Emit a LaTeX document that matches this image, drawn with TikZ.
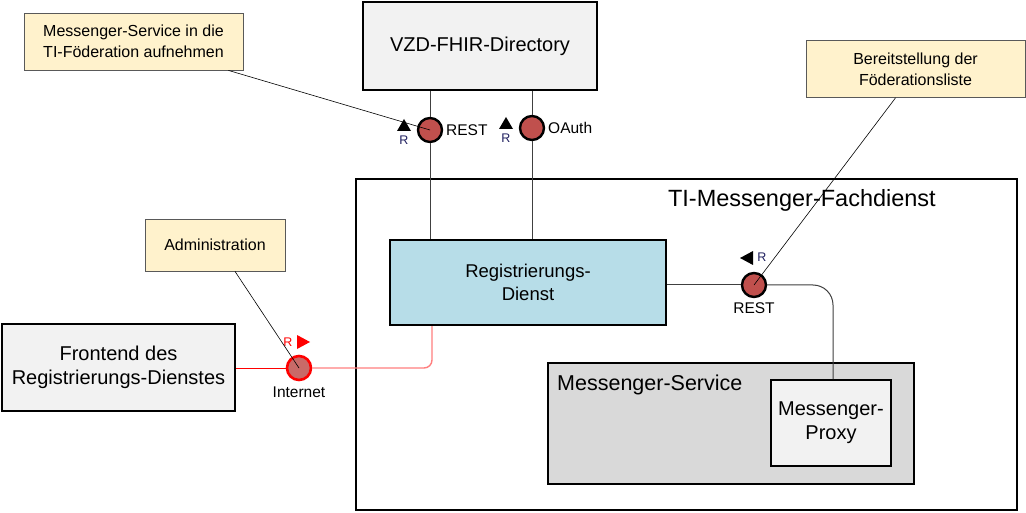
\documentclass[tikz,border=0pt]{standalone}
\usepackage{fontspec}
\setmainfont{Liberation Sans}
\definecolor{notefill}{HTML}{FFF2CC}
\definecolor{noteline}{HTML}{595959}
\definecolor{boxgray}{HTML}{F2F2F2}
\definecolor{msgray}{HTML}{D9D9D9}
\definecolor{regblue}{HTML}{B7DDE8}
\definecolor{portred}{HTML}{C0504D}
\definecolor{linkred}{HTML}{FF0000}
\definecolor{linkpink}{HTML}{FF7F7F}
\definecolor{rblue}{HTML}{1F1F5F}
\begin{document}
\begin{tikzpicture}[x=1pt,y=-1pt,
  notebox/.style={draw=noteline,fill=notefill,line width=0.8pt,minimum width=#1,minimum height=57pt,align=center,font=\fontsize{16}{21}\selectfont,inner sep=0pt},
  compbox/.style={draw=black,line width=2pt,align=center,font=\fontsize{20}{24}\selectfont,inner sep=0pt},
  port/.style={circle,draw=black,line width=2.4pt,fill=portred,minimum size=24pt,inner sep=0pt},
  portlabel/.style={font=\fontsize{15.5}{18}\selectfont,inner sep=1pt},
  rlabel/.style={font=\fontsize{12.5}{14}\selectfont,inner sep=0pt},
  link/.style={draw=black!75,line width=1pt},
  leader/.style={draw=black,line width=0.6pt}]
\useasboundingbox (0,0) rectangle (1026,513);
% boxes
\node[compbox,fill=white,minimum width=661pt,minimum height=331pt] (fach) at (686.5,344.5) {};
\node[anchor=north east,font=\fontsize{23.5}{26}\selectfont,inner sep=0pt] (fachlabel) at (936,189) {TI-Messenger-Fachdienst};
\node[compbox,fill=boxgray,minimum width=234pt,minimum height=88pt] (vzd) at (480,46) {VZD-FHIR-Directory};
\node[compbox,fill=regblue,minimum width=276pt,minimum height=85pt,font=\fontsize{18.5}{23}\selectfont] (reg) at (528,282.5) {Registrierungs-\\Dienst};
\node[compbox,fill=msgray,minimum width=366pt,minimum height=121pt] (ms) at (731,423.5) {};
\node[anchor=north west,font=\fontsize{21.5}{24}\selectfont,inner sep=0pt] (mslabel) at (557,375) {Messenger-Service};
\node[compbox,fill=boxgray,minimum width=120pt,minimum height=86pt] (proxy) at (831,423) {Messenger-\\Proxy};
\node[compbox,fill=boxgray,minimum width=233pt,minimum height=87pt] (front) at (118.5,367.5) {Frontend des\\Registrierungs-Dienstes};
% notes
\node[notebox=219pt] (note1) at (133.5,41.5) {Messenger-Service in die\\TI-Föderation aufnehmen};
\node[notebox=219pt] (note2) at (915.5,69) {Bereitstellung der\\Föderationsliste};
\node[notebox=140pt,minimum height=52pt] (note3) at (215,245) {Administration};
% ports
\node[port] (rest1) at (430,130) {};
\node[portlabel,anchor=west] (rest1l) at (445,130) {REST};
\node[port] (oauth) at (532,128) {};
\node[portlabel,anchor=west] (oauthl) at (547,128) {OAuth};
\node[port] (rest2) at (754,285) {};
\node[portlabel,anchor=north] (rest2l) at (754,301) {REST};
\node[circle,draw=linkred,line width=2.6pt,fill=portred!85!white,minimum size=24pt,inner sep=0pt] (inet) at (299,368) {};
\node[portlabel,anchor=north] (inetl) at (299,386) {Internet};
% R markers
\fill[black] (397,131) -- (404,119) -- (411,131) -- cycle;
\node[rlabel,text=rblue] (r1) at (404,140) {R};
\fill[black] (499,129) -- (506,117) -- (513,129) -- cycle;
\node[rlabel,text=rblue] (r2) at (506,138) {R};
\fill[black] (740,258) -- (753,251) -- (753,265) -- cycle;
\node[rlabel,text=rblue] (r3) at (762,257) {R};
\node[rlabel,text=linkred] (r4) at (288,342) {R};
\fill[linkred] (297,335) -- (310,342) -- (297,349) -- cycle;
% links
\draw[link] (vzd.south -| rest1) -- (rest1);
\draw[link] (rest1) -- (reg.north -| rest1);
\draw[link] (vzd.south -| oauth) -- (oauth);
\draw[link] (oauth) -- (reg.north -| oauth);
\draw[link] (reg.east |- rest2) -- (rest2);
\draw[link] (rest2) -- (813,285) arc[start angle=-90,end angle=0,radius=20] -- (proxy.north -| 833,0);
\draw[linkred,line width=1pt] (front.east |- inet) -- (inet);
\draw[linkpink,line width=1.4pt] (inet) -- (424,368) arc[start angle=90,end angle=0,radius=8] -- (reg.south -| 432,0);
% leaders
\draw[leader] ([xshift=-15pt]note1.south east) -- (rest1.center);
\draw[leader] ([xshift=-20pt]note2.south) -- (rest2.center);
\draw[leader] ([xshift=20pt]note3.south) -- (inet.center);
\end{tikzpicture}
\end{document}
